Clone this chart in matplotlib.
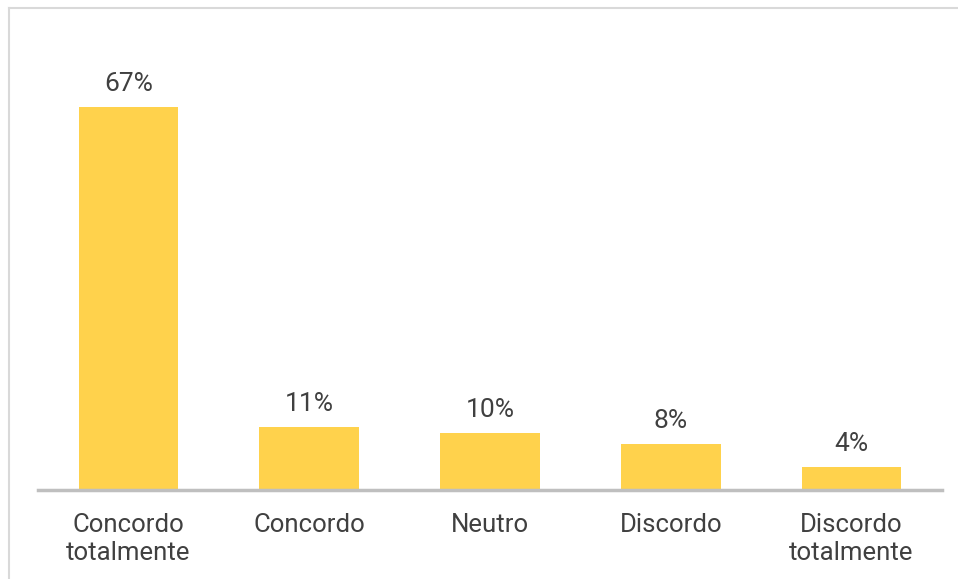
import matplotlib.pyplot as plt
from matplotlib.lines import Line2D

categories = ["Concordo\ntotalmente", "Concordo", "Neutro", "Discordo", "Discordo\ntotalmente"]
values = [67, 11, 10, 8, 4]

plt.rcParams['font.family'] = ['Roboto', 'DejaVu Sans']
text_color = "#404040"

fig = plt.figure(figsize=(9.58, 5.79), dpi=100)
ax = fig.add_axes([38 / 958, (579 - 490) / 579, (942 - 38) / 958, (490 - 20) / 579])

x = list(range(len(values)))
bars = ax.bar(x, values, width=0.55, color="#FFD24C", zorder=2)
for b, v in zip(bars, values):
    ax.annotate(f"{v}%", (b.get_x() + b.get_width() / 2, v), xytext=(0, 8),
                textcoords="offset points", ha="center", va="bottom",
                fontsize=19, color=text_color)

ax.set_xlim(-0.5, 4.5)
ax.set_ylim(0, 470 / 5.716)
ax.set_xticks(x)
ax.set_xticklabels(categories, fontsize=18.5, color=text_color, linespacing=1.22)
ax.tick_params(axis="x", length=0, pad=16.5)
ax.set_yticks([])
for s in ["top", "right", "left"]:
    ax.spines[s].set_visible(False)
ax.spines["bottom"].set_color("#BFBFBF")
ax.spines["bottom"].set_linewidth(2.5)

# light frame along the top and left edges
fig.add_artist(Line2D([9 / 958, 9 / 958], [0, 1 - 8 / 579], transform=fig.transFigure,
                      color="#D9D9D9", lw=1.5))
fig.add_artist(Line2D([9 / 958, 1], [1 - 8 / 579, 1 - 8 / 579], transform=fig.transFigure,
                      color="#D9D9D9", lw=1.5))

fig.savefig("out.png", dpi=100)
